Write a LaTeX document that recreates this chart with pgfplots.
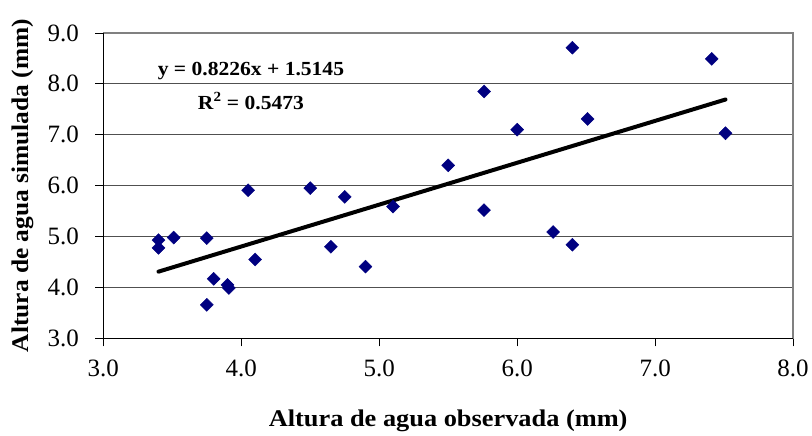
\documentclass[border=0pt]{standalone}
\usepackage{fontspec}
\setmainfont{Liberation Serif}
\newfontface\labelbf[FakeStretch=1.1]{Liberation Serif Bold}
\newfontface\ylabelbf[FakeStretch=1.06]{Liberation Serif Bold}
\newfontface\eqbf[FakeStretch=1.08]{Liberation Serif Bold}
\usepackage{pgfplots}
\pgfplotsset{compat=1.18}
\definecolor{navymark}{RGB}{0,0,128}
\definecolor{gridgray}{RGB}{80,80,80}
\definecolor{framegray}{RGB}{128,128,128}
\begin{document}
\begin{tikzpicture}
\begin{axis}[
  at={(0pt,0pt)}, anchor=south west,
  scale only axis,
  width=691pt, height=306pt,
  xmin=3, xmax=8, ymin=3, ymax=9,
  xtick={3,4,5,6,7,8}, ytick={3,4,5,6,7,8,9},
  /pgf/number format/assume math mode=true,
  /pgf/number format/fixed, /pgf/number format/fixed zerofill,
  /pgf/number format/precision=1,
  tick label style={font=\fontsize{25}{28}\selectfont},
  xticklabel style={anchor=base, yshift=-30pt},
  yticklabel style={anchor=east, xshift=-13pt},
  xtick pos=bottom, ytick pos=left,
  tick align=outside,
  major tick length=8pt,
  tick style={black, line width=0.8pt},
  ymajorgrids,
  major grid style={gridgray, line width=0.8pt},
  axis line style={framegray, line width=1.5pt},
  xlabel={Altura de agua observada (mm)},
  ylabel={Altura de agua simulada (mm)},
  xlabel style={font=\fontsize{24}{28}\labelbf,
    at={(rel axis cs:0.5,-0.29)}, anchor=base},
  ylabel style={font=\fontsize{24}{28}\ylabelbf,
    at={(rel axis cs:-0.109,0.5)}, anchor=base, rotate=0},
  clip=false,
]
% observed vs simulated water height
\addplot[only marks, mark=square*, mark size=4.6pt,
  mark options={rotate=45, fill=navymark, draw=navymark}] coordinates {
  (3.40,4.93) (3.40,4.78) (3.51,4.98) (3.75,4.97) (3.80,4.17)
  (3.75,3.66) (3.90,4.05) (3.91,3.99) (4.05,5.91) (4.10,4.55)
  (4.50,5.95) (4.65,4.80) (4.75,5.78) (4.90,4.41) (5.10,5.59)
  (5.50,6.40) (5.76,7.85) (5.76,5.52) (6.00,7.10) (6.40,8.71)
  (6.51,7.31) (6.26,5.09) (6.40,4.84) (7.41,8.49) (7.51,7.03)
};
% linear trend line y = 0.8226x + 1.5145
\addplot[black, line width=4pt, line cap=round] coordinates {
  (3.40,4.3113) (7.51,7.6922)
};
% axes in black over the grey frame
\draw[black, line width=0.8pt] (rel axis cs:0,0) -- (rel axis cs:1,0);
\draw[black, line width=0.8pt] (rel axis cs:0,0) -- (rel axis cs:0,1);
\node[font=\fontsize{20}{24}\eqbf] at (axis cs:4.07,8.25) {y = 0.8226x + 1.5145};
\node[font=\fontsize{20}{24}\eqbf] at (axis cs:4.07,7.66) {R\textsuperscript{2} = 0.5473};
\end{axis}
\path (-103.5pt,-97pt) rectangle (708.5pt,339pt);
\end{tikzpicture}
\end{document}
